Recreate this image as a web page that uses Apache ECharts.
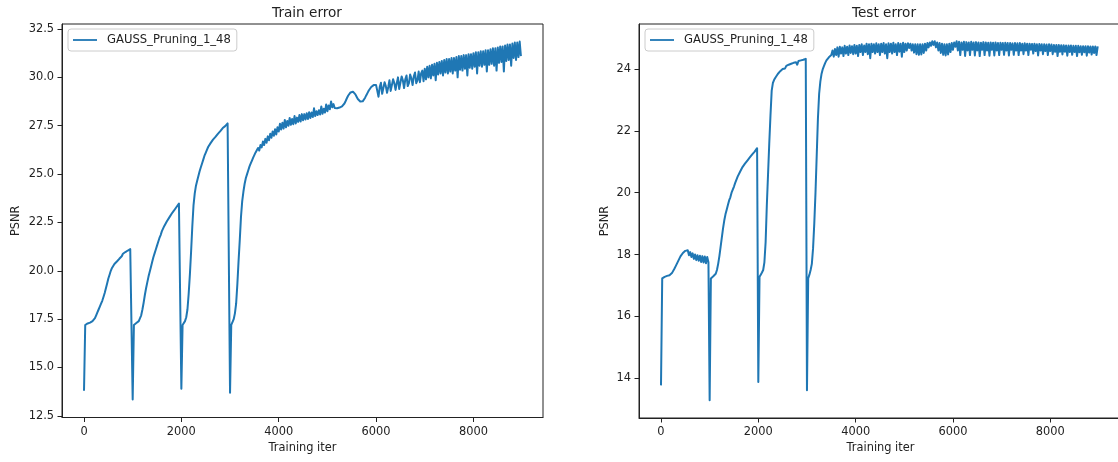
<!DOCTYPE html>
<html>
<head>
<meta charset="utf-8">
<script src="https://cdn.jsdelivr.net/npm/echarts@6/dist/echarts.min.js"></script>
<style>
  html, body { margin: 0; padding: 0; background: #ffffff; }
  #chart { width: 1118px; height: 462px; }
</style>
</head>
<body>
<div id="chart"></div>
<script>
// PSNR logged every 25 training iterations (0 .. 8975)
const STEP = 25;
const seriesName = 'GAUSS_Pruning_1_48';

const trainPsnr = [
  13.8, 17.2, 17.25, 17.28, 17.3, 17.32, 17.35, 17.4, 17.45, 17.55, 17.7, 17.85, 18.0, 18.15, 18.3, 18.45, 18.65, 18.85, 19.1, 19.35,
  19.6, 19.8, 20.0, 20.15, 20.25, 20.35, 20.42, 20.48, 20.58, 20.62, 20.72, 20.75, 20.88, 20.84, 20.97, 20.92, 21.05, 21.0, 21.12, 21.1,
  13.35, 17.2, 17.25, 17.3, 17.35, 17.4, 17.5, 17.7, 18.0, 18.35, 18.75, 19.1, 19.4, 19.7, 19.95, 20.2, 20.45, 20.7, 20.9, 21.1,
  21.3, 21.5, 21.7, 21.85, 22.05, 22.12, 22.32, 22.38, 22.55, 22.58, 22.75, 22.78, 22.95, 22.98, 23.12, 23.15, 23.3, 23.28, 23.48, 23.4,
  13.9, 17.2, 17.3, 17.4, 17.6, 18.0, 18.8, 19.8, 21.0, 22.3, 23.4, 24.0, 24.4, 24.65, 24.9, 25.15, 25.35, 25.55, 25.75, 25.95,
  26.1, 26.25, 26.4, 26.48, 26.6, 26.62, 26.78, 26.8, 26.92, 26.95, 27.08, 27.1, 27.22, 27.18, 27.38, 27.3, 27.48, 27.4, 27.62, 27.55,
  13.7, 17.2, 17.35, 17.5, 17.8, 18.3, 19.3, 20.5, 21.6, 22.8, 23.6, 24.1, 24.5, 24.8, 25.0, 25.2, 25.4, 25.55, 25.7, 25.85,
  25.9, 26.12, 26.08, 26.35, 26.22, 26.5, 26.38, 26.68, 26.5, 26.82, 26.62, 26.95, 26.75, 27.08, 26.88, 27.2, 26.98, 27.32, 27.05, 27.42,
  27.2, 27.6, 27.3, 27.65, 27.35, 27.8, 27.42, 27.75, 27.5, 27.9, 27.55, 27.85, 27.58, 28.0, 27.62, 27.92, 27.7, 28.05, 27.72, 28.1,
  27.78, 28.1, 27.82, 28.15, 27.85, 28.2, 27.9, 28.18, 27.95, 28.4, 28.0, 28.25, 28.05, 28.3, 28.08, 28.5, 28.12, 28.38, 28.18, 28.6,
  28.25, 28.55, 28.35, 28.75, 28.45, 28.62, 28.42, 28.4, 28.4, 28.42, 28.44, 28.46, 28.5, 28.56, 28.65, 28.78, 28.92, 29.05, 29.15, 29.22,
  29.24, 29.26, 29.22, 29.12, 29.0, 28.88, 28.8, 28.75, 28.73, 28.76, 28.84, 28.95, 29.08, 29.2, 29.32, 29.42, 29.5, 29.56, 29.6, 29.62,
  29.6, 29.3, 29.0, 29.5, 29.72, 29.15, 29.2, 29.75, 29.55, 29.2, 29.5, 29.85, 29.3, 29.35, 29.9, 29.7, 29.35, 29.7, 30.0, 29.4,
  29.5, 30.05, 29.85, 29.45, 29.9, 30.1, 29.55, 29.7, 30.15, 29.95, 29.6, 30.05, 30.25, 29.7, 29.85, 30.3, 29.75, 30.2, 30.35, 29.8,
  30.45, 29.9, 30.55, 30.0, 30.6, 29.95, 30.65, 30.1, 30.7, 29.85, 30.75, 30.15, 30.8, 30.2, 30.85, 30.1, 30.9, 30.25, 30.95, 30.2,
  30.95, 30.3, 31.0, 30.2, 31.0, 30.35, 31.05, 30.0, 31.1, 30.4, 31.1, 30.35, 31.15, 30.45, 31.15, 30.1, 31.2, 30.5, 31.2, 30.45,
  31.25, 30.55, 31.3, 30.2, 31.3, 30.6, 31.35, 30.55, 31.35, 30.65, 31.4, 30.3, 31.4, 30.65, 31.45, 30.7, 31.5, 30.6, 31.5, 30.35,
  31.55, 30.75, 31.6, 30.8, 31.6, 30.3, 31.65, 30.85, 31.7, 30.9, 31.7, 30.6, 31.75, 31.0, 31.8, 30.9, 31.8, 31.05, 31.85, 31.1
];

const testPsnr = [
  13.77, 17.23, 17.26, 17.28, 17.3, 17.31, 17.32, 17.33, 17.36, 17.4, 17.46, 17.54, 17.62, 17.7, 17.78, 17.86, 17.94, 18.0, 18.05, 18.1,
  18.12, 18.06, 18.14, 17.98, 18.08, 17.92, 18.04, 17.86, 18.0, 17.82, 17.98, 17.8, 17.96, 17.76, 17.95, 17.74, 17.94, 17.72, 17.92, 17.75,
  13.29, 17.23, 17.27, 17.3, 17.33, 17.38, 17.5, 17.7, 17.95, 18.25, 18.55, 18.85, 19.1, 19.3, 19.45, 19.6, 19.75, 19.85, 20.0, 20.1,
  20.2, 20.32, 20.38, 20.52, 20.56, 20.68, 20.7, 20.83, 20.82, 20.94, 20.92, 21.04, 21.02, 21.14, 21.12, 21.24, 21.22, 21.33, 21.36, 21.44,
  13.88, 17.28, 17.35, 17.42, 17.5, 17.75, 18.4, 19.6, 20.6, 21.6, 22.5, 23.3, 23.55, 23.65, 23.72, 23.78, 23.84, 23.88, 23.93, 23.96,
  24.0, 24.06, 24.02, 24.1, 24.06, 24.14, 24.08, 24.17, 24.12, 24.2, 24.15, 24.22, 24.14, 24.26, 24.2, 24.28, 24.22, 24.3, 24.24, 24.33,
  13.61, 17.23, 17.35, 17.5, 17.7, 18.2, 19.0, 20.0, 21.2, 22.4, 23.2, 23.6, 23.85, 24.0, 24.1, 24.2, 24.28, 24.33, 24.38, 24.42,
  24.45, 24.6, 24.4, 24.65, 24.45, 24.7, 24.4, 24.72, 24.5, 24.7, 24.42, 24.75, 24.5, 24.72, 24.45, 24.76, 24.52, 24.74, 24.48, 24.78,
  24.5, 24.75, 24.42, 24.78, 24.55, 24.8, 24.45, 24.76, 24.55, 24.82, 24.48, 24.8, 24.35, 24.82, 24.55, 24.8, 24.5, 24.83, 24.55, 24.8,
  24.45, 24.82, 24.55, 24.84, 24.5, 24.8, 24.35, 24.83, 24.55, 24.82, 24.5, 24.85, 24.55, 24.8, 24.45, 24.84, 24.56, 24.82, 24.4, 24.85,
  24.55, 24.82, 24.6, 24.83, 24.68, 24.82, 24.6, 24.8, 24.53, 24.8, 24.48, 24.8, 24.46, 24.8, 24.47, 24.8, 24.52, 24.82, 24.6, 24.84,
  24.7, 24.86, 24.75, 24.9, 24.78, 24.9, 24.7, 24.86, 24.6, 24.84, 24.52, 24.82, 24.46, 24.8, 24.44, 24.8, 24.47, 24.82, 24.55, 24.84,
  24.62, 24.86, 24.72, 24.9, 24.6, 24.88, 24.45, 24.86, 24.62, 24.88, 24.42, 24.87, 24.6, 24.86, 24.45, 24.88, 24.62, 24.86, 24.44, 24.87,
  24.6, 24.86, 24.42, 24.85, 24.62, 24.87, 24.45, 24.86, 24.6, 24.85, 24.43, 24.86, 24.62, 24.85, 24.44, 24.86, 24.6, 24.84, 24.45, 24.85,
  24.62, 24.84, 24.46, 24.85, 24.6, 24.84, 24.44, 24.84, 24.62, 24.83, 24.46, 24.84, 24.6, 24.83, 24.45, 24.84, 24.6, 24.82, 24.48, 24.83,
  24.6, 24.82, 24.45, 24.82, 24.62, 24.81, 24.5, 24.82, 24.58, 24.8, 24.44, 24.81, 24.6, 24.8, 24.48, 24.8, 24.58, 24.79, 24.45, 24.8,
  24.58, 24.79, 24.48, 24.78, 24.56, 24.78, 24.42, 24.78, 24.56, 24.77, 24.47, 24.77, 24.56, 24.76, 24.43, 24.76, 24.55, 24.76, 24.46, 24.75,
  24.55, 24.75, 24.42, 24.75, 24.54, 24.74, 24.46, 24.74, 24.54, 24.74, 24.43, 24.74, 24.53, 24.73, 24.47, 24.73, 24.52, 24.73, 24.45, 24.73
];

const xTicks = [0, 2000, 4000, 6000, 8000];
const trainYTicks = [12.5, 15.0, 17.5, 20.0, 22.5, 25.0, 27.5, 30.0, 32.5];
const testYTicks = [14, 16, 18, 20, 22, 24];

const FONT = 'DejaVu Sans';
const INK = '#222222';
const LINE = '#1f77b4';
const FS = 11.4;

const toPairs = vals => vals.map((v, i) => [i * STEP, v]);

function xAxisFor(gridIndex, min, max) {
  return {
    type: 'value', gridIndex, min, max,
    name: 'Training iter', nameLocation: 'middle', nameGap: 24,
    nameTextStyle: { fontFamily: FONT, fontSize: FS, color: INK },
    axisLine: { show: true, onZero: false, lineStyle: { color: INK, width: 1 } },
    axisTick: { show: true, customValues: xTicks, length: 4.5, lineStyle: { color: INK, width: 1 } },
    axisLabel: { customValues: xTicks, margin: 9, fontFamily: FONT, fontSize: FS, color: INK,
      formatter: v => String(v) },
    splitLine: { show: false }
  };
}

function yAxisFor(gridIndex, min, max, ticks, digits, nameGap) {
  return {
    type: 'value', gridIndex, min, max,
    name: 'PSNR', nameLocation: 'middle', nameRotate: 90, nameGap,
    nameTextStyle: { fontFamily: FONT, fontSize: FS, color: INK },
    axisLine: { show: true, onZero: false, lineStyle: { color: INK, width: 1 } },
    axisTick: { show: true, customValues: ticks, length: 4.5, lineStyle: { color: INK, width: 1 } },
    axisLabel: {
      customValues: ticks, margin: 8, fontFamily: FONT, fontSize: FS, color: INK,
      formatter: v => Number(v).toFixed(digits)
    },
    splitLine: { show: false }
  };
}

function legendFor(left) {
  return {
    data: [seriesName], left, top: 29,
    orient: 'vertical',
    backgroundColor: '#ffffff', borderColor: '#cccccc', borderWidth: 1, borderRadius: 3,
    padding: [4, 6, 4, 5],
    icon: 'rect', itemWidth: 24, itemHeight: 1.8,
    textStyle: { fontFamily: FONT, fontSize: 11.6, color: INK, lineHeight: 14, padding: [0, 0, 0, 5] }
  };
}

const chart = echarts.init(document.getElementById('chart'), null, { renderer: 'canvas' });
chart.setOption({
  animation: false,
  backgroundColor: '#ffffff',
  title: [
    { text: 'Train error', left: 302, top: 1, textAlign: 'center',
      textStyle: { fontFamily: FONT, fontSize: 13.6, fontWeight: 'normal', color: INK } },
    { text: 'Test error', left: 879, top: 1, textAlign: 'center',
      textStyle: { fontFamily: FONT, fontSize: 13.6, fontWeight: 'normal', color: INK } }
  ],
  legend: [legendFor(68), legendFor(645)],
  grid: [
    { left: 62, top: 24, width: 481, height: 393.5, containLabel: false, outerBoundsMode: 'none',
      show: true, borderColor: INK, borderWidth: 1, backgroundColor: 'transparent' },
    { left: 639, top: 24, width: 483, height: 394, containLabel: false, outerBoundsMode: 'none',
      show: true, borderColor: INK, borderWidth: 1, backgroundColor: 'transparent' }
  ],
  xAxis: [xAxisFor(0, -452, 9429), xAxisFor(1, -452, 9474)],
  yAxis: [
    yAxisFor(0, 12.417, 32.759, trainYTicks, 1, 40),
    yAxisFor(1, 12.715, 25.456, testYTicks, 0, 28)
  ],
  series: [
    { name: seriesName, type: 'line', xAxisIndex: 0, yAxisIndex: 0, data: toPairs(trainPsnr),
      showSymbol: false, symbol: 'none', sampling: 'none', color: LINE,
      lineStyle: { color: LINE, width: 2, join: 'round' } },
    { name: seriesName, type: 'line', xAxisIndex: 1, yAxisIndex: 1, data: toPairs(testPsnr),
      showSymbol: false, symbol: 'none', sampling: 'none', color: LINE,
      lineStyle: { color: LINE, width: 2, join: 'round' } }
  ]
});
</script>
</body>
</html>
